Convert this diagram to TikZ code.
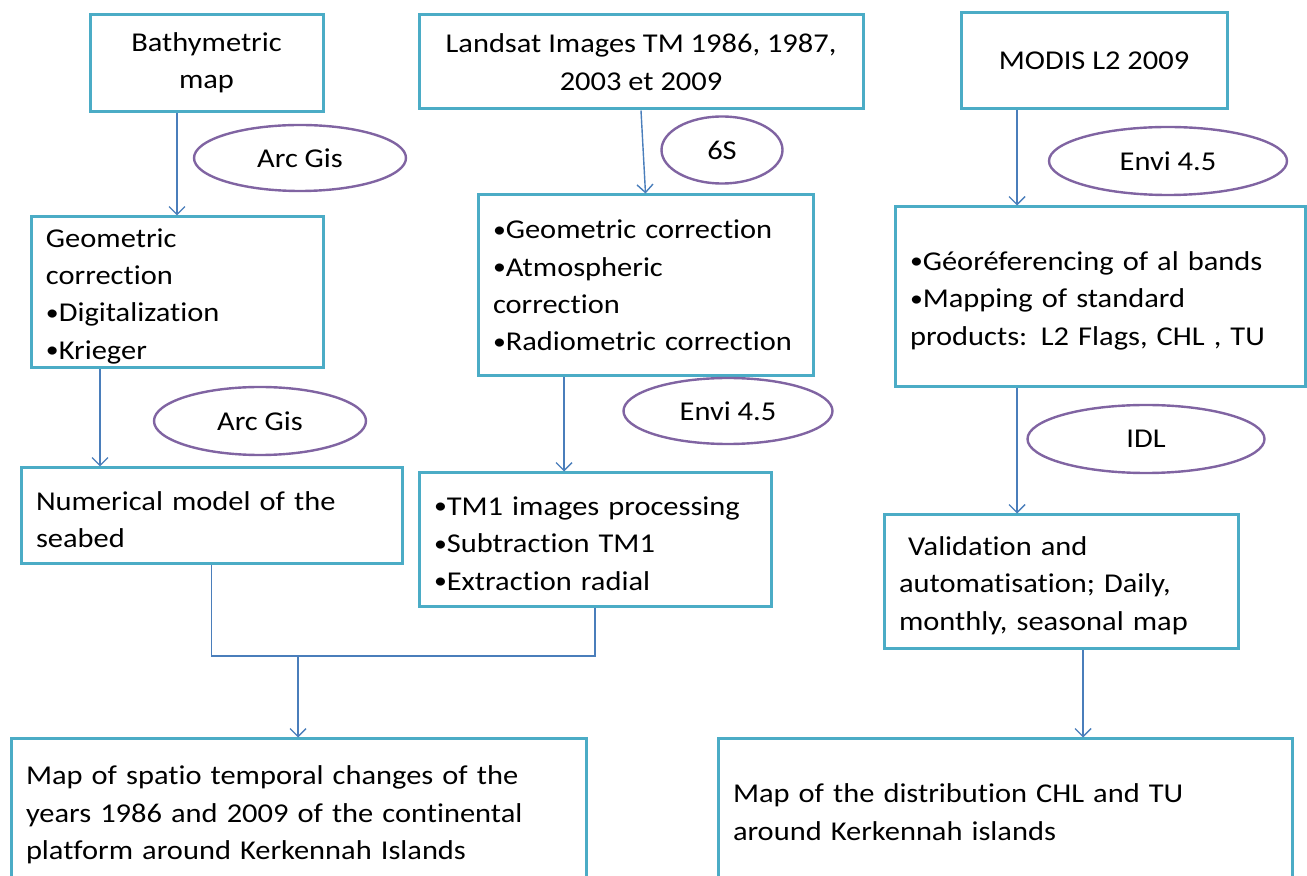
\documentclass[tikz,border=0pt]{standalone}
\usepackage{fontspec}
\setmainfont{Carlito}[Ligatures=NoCommon, FakeStretch=1.12]
\usetikzlibrary{shapes.geometric,arrows.meta}
\definecolor{boxline}{HTML}{4BACC6}
\definecolor{toolline}{HTML}{8064A2}
\definecolor{arrline}{HTML}{4A7EBB}
\newcommand{\bul}{\raisebox{0.8pt}{\fontsize{11.5}{11.5}\selectfont •}}
\tikzset{
    stage/.style={draw=boxline, line width=1.5pt, rectangle, inner sep=0pt,
        font=\fontsize{13.6}{18.7}\selectfont},
    stageleft/.style={stage, align=left, inner xsep=7.5pt},
    lowtext/.style={execute at begin node=\strut},
    tool/.style={draw=toolline, line width=1.2pt, ellipse, inner sep=0pt,
        font=\fontsize{13.6}{18.7}\selectfont},
    link/.style={draw=arrline, line width=0.7pt},
    arr/.style={link, -{Straight Barb[length=4pt,width=8pt]}}
}

\begin{document}
\begin{tikzpicture}[x=0.5pt, y=-0.5pt]
    \useasboundingbox (0,0) rectangle (1307,876);
    \clip (0,0) rectangle (1307,876);

    % Sources
    \node[stage, align=center, minimum width=116.5pt, minimum height=48.5pt]
        (bathy) at (206.5,63) {Bathymetric\\map};
    \node[stage, align=center, minimum width=222pt, minimum height=47pt]
        (landsat) at (641,62) {Landsat Images TM 1986, 1987,\\2003 et 2009};
    \node[stage, align=center, minimum width=133pt, minimum height=48pt]
        (modis) at (1094,61) {MODIS L2 2009};

    % Processing
    \node[stageleft, lowtext, text width=131pt, minimum width=146pt, minimum height=75.5pt]
        (geocor) at (177,292.5) {Geometric\\correction\\\bul Digitalization\\\bul Krieger};
    \node[stageleft, text width=152.5pt, minimum width=167.5pt, minimum height=90.5pt]
        (imgcor) at (645.5,285.5) {\bul Geometric correction\\\bul Atmospheric\\correction\\\bul Radiometric correction};
    \node[stageleft, lowtext, text width=190pt, minimum width=205pt, minimum height=90pt]
        (georef) at (1100,297) {\bul Géoréferencing of al bands\\\bul Mapping of standard\\products: L2 Flags, CHL , TU};

    \node[stageleft, lowtext, text width=175.5pt, minimum width=190.5pt, minimum height=48pt]
        (seabed) at (211.5,516) {Numerical model of the\\seabed};
    \node[stageleft, lowtext, text width=161pt, minimum width=176pt, minimum height=67pt]
        (tmone) at (595,540) {\bul TM1 images processing\\\bul Subtraction TM1\\\bul Extraction radial};
    \node[stageleft, lowtext, text width=162pt, minimum width=177pt, minimum height=67pt]
        (valid) at (1061,582) {~Validation and\\automatisation; Daily,\\monthly, seasonal map};

    % Results
    \node[stageleft, text width=272.5pt, minimum width=287.5pt, minimum height=76pt]
        (mapchange) at (298.5,815) {Map of spatio temporal changes of the\\years 1986 and 2009 of the continental\\platform around Kerkennah Islands};
    \node[stageleft, text width=272pt, minimum width=287pt, minimum height=73pt]
        (mapdist) at (1005,812) {Map of the distribution CHL and TU\\around Kerkennah islands};

    % Tools
    \node[tool, minimum width=106pt, minimum height=33pt] (arcgisA) at (300,158) {Arc Gis};
    \node[tool, minimum width=60.5pt, minimum height=33.5pt] (sixs) at (722,150) {6S};
    \node[tool, minimum width=119pt, minimum height=34pt] (enviA) at (1168,161) {Envi 4.5};
    \node[tool, minimum width=106pt, minimum height=34pt] (arcgisB) at (260,421) {Arc Gis};
    \node[tool, minimum width=104.5pt, minimum height=33pt] (enviB) at (728,411) {Envi 4.5};
    \node[tool, minimum width=118.5pt, minimum height=34pt] (idl) at (1146,439) {IDL};

    % Arrows
    \draw[arr] (bathy.south -| geocor.north) -- (geocor.north);
    \draw[arr] (landsat.south) -- (imgcor.north);
    \draw[arr] ([xshift=-38.5pt]modis.south) -- ([xshift=-38.5pt]modis.south |- georef.north);
    \draw[arr] ([xshift=-38.5pt]geocor.south) -- ([xshift=-38.5pt]geocor.south |- seabed.north);
    \draw[arr] ([xshift=-40.75pt]imgcor.south) -- ([xshift=-40.75pt]imgcor.south |- tmone.north);
    \draw[arr] ([xshift=-41.5pt]georef.south) -- ([xshift=-41.5pt]georef.south |- valid.north);

    % Join towards the first map
    \coordinate (join) at (298,656);
    \draw[link] (seabed.south) |- (join) -| (tmone.south);
    \draw[arr] (join) -- (join |- mapchange.north);
    \draw[arr] ([xshift=11pt]valid.south) -- ([xshift=11pt]valid.south |- mapdist.north);
\end{tikzpicture}
\end{document}
